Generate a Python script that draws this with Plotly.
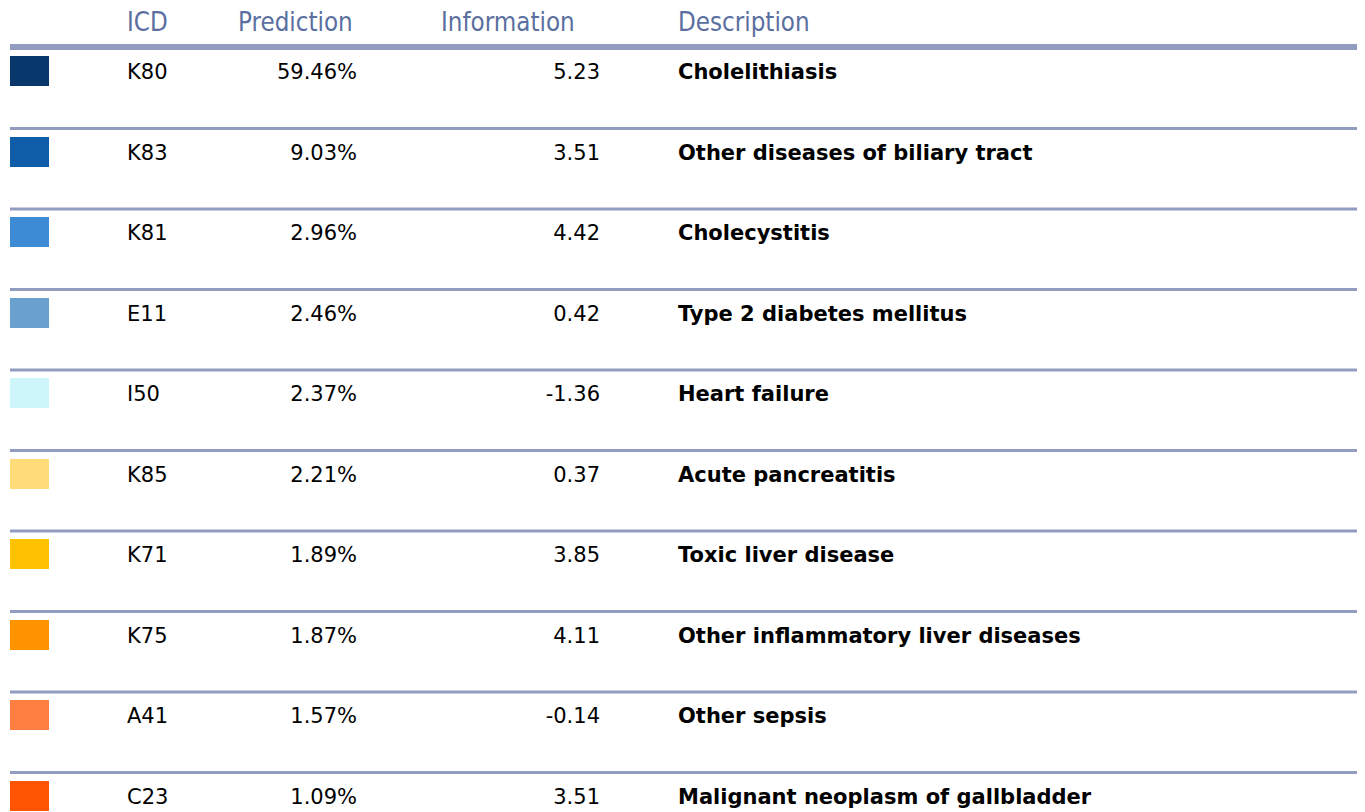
import plotly.graph_objects as go

# ---- data ----
icd_codes = ["K80", "K83", "K81", "E11", "I50", "K85", "K71", "K75", "A41", "C23"]
predictions = [59.46, 9.03, 2.96, 2.46, 2.37, 2.21, 1.89, 1.87, 1.57, 1.09]
information = [5.23, 3.51, 4.42, 0.42, -1.36, 0.37, 3.85, 4.11, -0.14, 3.51]
descriptions = [
    "Cholelithiasis",
    "Other diseases of biliary tract",
    "Cholecystitis",
    "Type 2 diabetes mellitus",
    "Heart failure",
    "Acute pancreatitis",
    "Toxic liver disease",
    "Other inflammatory liver diseases",
    "Other sepsis",
    "Malignant neoplasm of gallbladder",
]
swatch_colors = ["#08376b", "#0f5ca8", "#3e8bd5", "#6aa0d0", "#ccf6f9",
                 "#ffdc78", "#ffc200", "#ff9300", "#ff7f40", "#ff5500"]
headers = ["ICD", "Prediction", "Information", "Description"]

# ---- layout constants (figure pixels; page has an 8px body margin) ----
W, H = 1365, 812
table_left, table_right = 2, 1351
row_pitch = 80.5
first_row_y = 66
header_y = 17
header_line_y = 39
first_sep_y = 120.5
swatch_w, swatch_h = 39, 30
swatch_center_y = 63
col_icd_x = 119
col_pred_right = 349
col_info_right = 592
col_desc_x = 670
header_x = [119, 230, 433, 670]

LINE_COLOR = "#919cbf"
HEADER_COLOR = "#5a6f9f"
FONT = "DejaVu Sans"
HEADER_FONT = "DejaVu Sans Condensed, DejaVu Sans"
FS = 21
HFS = 25.7

n = len(icd_codes)
row_y = [first_row_y + i * row_pitch for i in range(n)]
swatch_y = [swatch_center_y + i * row_pitch for i in range(n)]

fig = go.Figure()

# swatches as horizontal bars
fig.add_trace(go.Bar(
    orientation="h",
    y=swatch_y, x=[swatch_w] * n, base=[table_left] * n,
    width=[swatch_h] * n,
    marker=dict(color=swatch_colors, line=dict(width=0)),
    hoverinfo="skip", showlegend=False,
))

def text_trace(xs, ys, texts, pos, color="#000000", weight="normal",
               family=FONT, size=FS):
    return go.Scatter(
        x=xs, y=ys, text=texts, mode="text", textposition=pos,
        textfont=dict(family=family, size=size, color=color, weight=weight),
        hoverinfo="skip", showlegend=False, cliponaxis=False,
    )

# header
fig.add_trace(text_trace(header_x, [header_y] * 4, headers, "middle right",
                         HEADER_COLOR, family=HEADER_FONT, size=HFS))
# columns
fig.add_trace(text_trace([col_icd_x] * n, row_y, icd_codes, "middle right"))
fig.add_trace(text_trace([col_pred_right] * n, row_y,
                         [f"{p:.2f}%" for p in predictions], "middle left"))
fig.add_trace(text_trace([col_info_right] * n, row_y,
                         [f"{v:.2f}" for v in information], "middle left"))
fig.add_trace(text_trace([col_desc_x] * n, row_y, descriptions, "middle right",
                         weight="bold"))

# separators
shapes = [dict(type="line", xref="x", yref="y", x0=table_left, x1=table_right,
               y0=header_line_y, y1=header_line_y,
               line=dict(color=LINE_COLOR, width=6))]
for i in range(n):
    yy = first_sep_y + i * row_pitch
    shapes.append(dict(type="line", xref="x", yref="y", x0=table_left, x1=table_right,
                       y0=yy, y1=yy, line=dict(color=LINE_COLOR, width=3)))

fig.update_layout(
    width=W, height=H,
    margin=dict(l=0, r=0, t=0, b=0),
    paper_bgcolor="white", plot_bgcolor="white",
    shapes=shapes,
    xaxis=dict(range=[0, W], visible=False, fixedrange=True),
    yaxis=dict(range=[H, 0], visible=False, fixedrange=True),
    bargap=0,
)

fig.write_html("out.html")
